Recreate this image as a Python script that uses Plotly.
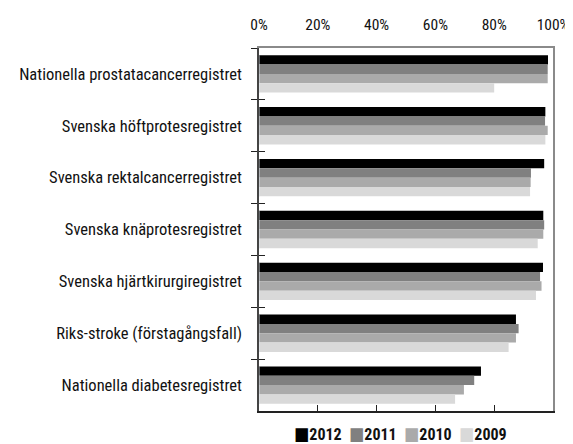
import plotly.graph_objects as go

categories = [
    "Nationella prostatacancerregistret",
    "Svenska höftprotesregistret",
    "Svenska rektalcancerregistret",
    "Svenska knäprotesregistret",
    "Svenska hjärtkirurgiregistret",
    "Riks-stroke (förstagångsfall)",
    "Nationella diabetesregistret",
]
years = ["2012", "2011", "2010", "2009"]
v2012 = [98.3, 97.4, 97.0, 96.7, 96.6, 87.4, 75.5]
v2011 = [98.2, 97.3, 92.5, 97.0, 95.6, 88.3, 73.2]
v2010 = [98.2, 98.2, 92.4, 96.7, 96.1, 87.4, 69.7]
v2009 = [80.0, 97.4, 92.2, 94.8, 94.2, 84.9, 66.7]
series = [v2012, v2011, v2010, v2009]
colors = ["#000000", "#808080", "#aaaaaa", "#d9d9d9"]
tickvals = [0, 20, 40, 60, 80, 100]
ticktext = ["0%", "20%", "40%", "60%", "80%", "100%"]

FONT = "Roboto Condensed, DejaVu Sans Condensed, sans-serif"

fig = go.Figure()
for name, vals, col in zip(years, series, colors):
    fig.add_trace(go.Bar(
        y=categories, x=vals, name=name, orientation="h",
        marker=dict(color=col, line=dict(width=0)),
        xaxis="x", yaxis="y", showlegend=False,
    ))
# helper trace (zero-length bars) carrying the top axis labels and inner ticks
fig.add_trace(go.Bar(y=categories, x=[0] * len(categories), orientation="h",
                     showlegend=False, hoverinfo="skip", xaxis="x2", yaxis="y2",
                     marker=dict(color="rgba(0,0,0,0)")))
# helper for right border
fig.add_trace(go.Scatter(x=[None], y=[None], xaxis="x", yaxis="y3",
                         showlegend=False, hoverinfo="skip"))

# the page body has an 8px margin, so the figure is 8px smaller than the window
fig.update_layout(
    width=565, height=436,
    margin=dict(l=251, r=20, t=40, b=33),
    paper_bgcolor="white", plot_bgcolor="white",
    barmode="group", bargap=0.28, bargroupgap=0,
    font=dict(family=FONT, size=16, color="#111111"),
    xaxis=dict(range=[0, 100], tickvals=tickvals, showticklabels=False,
               ticks="inside", ticklen=6, tickcolor="#222222", tickwidth=1.2,
               showgrid=False, zeroline=False, showline=True,
               linecolor="#222222", linewidth=1.5, automargin=False),
    xaxis2=dict(range=[0, 100], tickvals=tickvals, ticktext=ticktext,
                overlaying="x", side="top", anchor="y2",
                showgrid=False, zeroline=False, showline=True,
                linecolor="#8a8a8a", linewidth=1.5, ticks="",
                ticklabelstandoff=10, automargin=False,
                tickfont=dict(family=FONT, size=15.5, color="#111111")),
    yaxis=dict(autorange="reversed", ticks="outside", tickson="boundaries",
               ticklen=6, tickcolor="#222222", tickwidth=1.2, showgrid=False,
               zeroline=False, showline=True, linecolor="#444444",
               linewidth=1.5, ticklabelstandoff=12, automargin=False,
               tickfont=dict(family=FONT, size=16.5, color="#111111")),
    yaxis2=dict(autorange="reversed", overlaying="y", side="left", anchor="x2",
                ticks="inside", tickson="boundaries", ticklen=6, tickwidth=1.2,
                tickcolor="#222222", showticklabels=False, showgrid=False,
                zeroline=False, showline=False, automargin=False),
    yaxis3=dict(overlaying="y", side="right", anchor="x", showline=True,
                linecolor="#8a8a8a", linewidth=1.5, showticklabels=False,
                ticks="", showgrid=False, zeroline=False, automargin=False),
    showlegend=False,
)

legend_text = "&nbsp;&nbsp;".join(
    f"<span style='color:{c};font-size:18px'>■</span><b>{y}</b>"
    for y, c in zip(years, colors)
)
fig.add_annotation(xref="paper", yref="paper", x=0.48, y=-0.063,
                   xanchor="center", yanchor="middle", showarrow=False,
                   text=legend_text,
                   font=dict(family=FONT, size=16, color="#111111"))
fig.write_html("out.html")
